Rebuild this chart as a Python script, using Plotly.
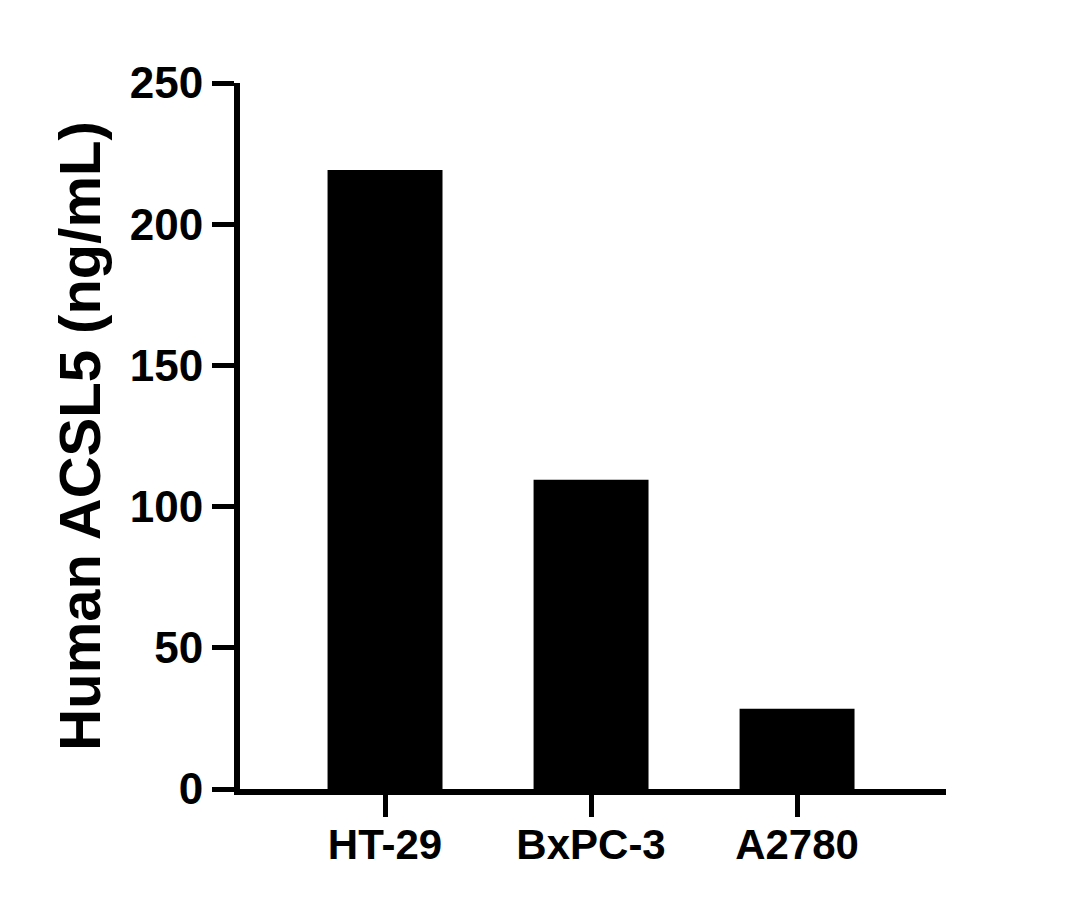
import plotly.graph_objects as go

categories = ["HT-29", "BxPC-3", "A2780"]
values = [219.2, 109.5, 28.4]
y_ticks = [0, 50, 100, 150, 200, 250]

font = dict(family="Liberation Sans, Arial, sans-serif", color="black", size=40, weight="bold")

fig = go.Figure(go.Bar(
    x=list(range(len(categories))), y=values,
    width=0.558, marker=dict(color="black", line=dict(width=0)),
))

fig.update_layout(
    width=1063, height=893,
    margin=dict(l=232, r=125, t=75, b=112, pad=0),
    plot_bgcolor="white", paper_bgcolor="white",
    showlegend=False,
    font=font,
)
fig.update_xaxes(
    range=[-0.704, 2.723],
    tickvals=list(range(len(categories))), ticktext=categories,
    showline=True, linewidth=6, linecolor="black",
    ticks="outside", ticklen=22, tickwidth=5, tickcolor="black",
    showgrid=False, zeroline=False,
    tickfont=dict(size=42),
    ticklabelstandoff=-8,
)
fig.update_yaxes(
    range=[0, 250], tickvals=y_ticks,
    showline=True, linewidth=6, linecolor="black",
    ticks="outside", ticklen=22, tickwidth=5, tickcolor="black",
    showgrid=False, zeroline=False,
    tickfont=dict(size=44),
    title=dict(text="Human ACSL5 (ng/mL)", font=dict(size=58), standoff=12),
)

fig.write_html("out.html")
